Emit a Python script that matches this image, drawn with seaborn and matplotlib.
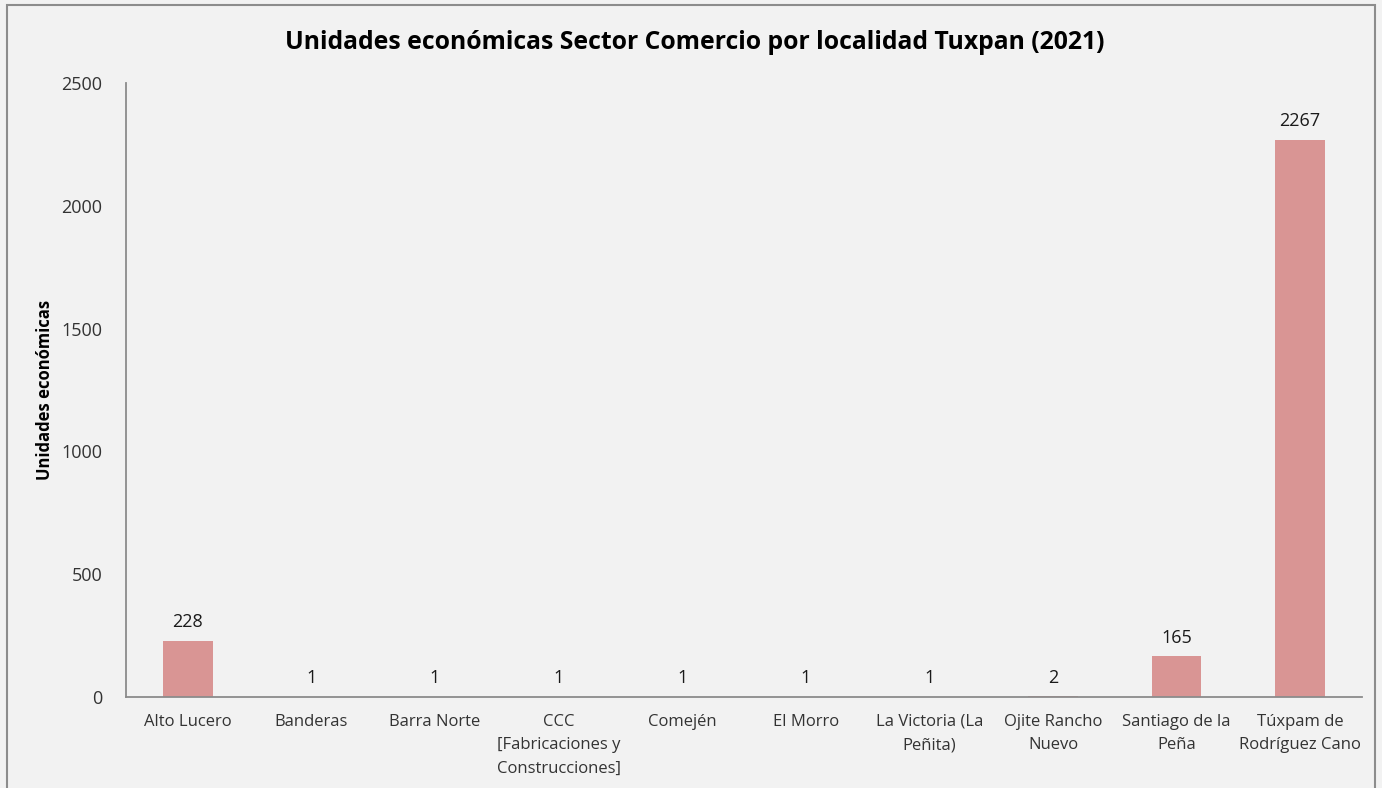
import matplotlib
matplotlib.use("Agg")
import matplotlib.pyplot as plt
import seaborn as sns
import pandas as pd
from matplotlib.patches import Rectangle

# data
localidades = [
    "Alto Lucero", "Banderas", "Barra Norte",
    "CCC\n[Fabricaciones y\nConstrucciones]", "Comején", "El Morro",
    "La Victoria (La\nPeñita)", "Ojite Rancho\nNuevo", "Santiago de la\nPeña",
    "Túxpam de\nRodríguez Cano",
]
unidades = [228, 1, 1, 1, 1, 1, 1, 2, 165, 2267]
y_ticks = [0, 500, 1000, 1500, 2000, 2500]

df = pd.DataFrame({"Localidad": localidades, "Unidades": unidades})

sns.set_style("white")
plt.rcParams["font.family"] = ["Open Sans", "DejaVu Sans"]

bg = "#f2f2f2"
fig = plt.figure(figsize=(13.82, 7.88), dpi=100, facecolor=bg)
ax = fig.add_axes([0.0912, 0.1155, 0.8943, 0.7792])
ax.set_facecolor(bg)

sns.barplot(data=df, x="Localidad", y="Unidades", color="#d99594",
            width=0.4, saturation=1, linewidth=0, ax=ax)

ax.bar_label(ax.containers[0], fmt="%d", padding=7, fontsize=13, color="#1a1a1a")

ax.set_ylim(0, 2500)
ax.set_yticks(y_ticks)
ax.set_xlim(-0.5, len(localidades) - 0.5)
ax.tick_params(axis="y", labelsize=13, colors="#333333", length=0, pad=17)
ax.tick_params(axis="x", labelsize=12, colors="#333333", length=0, pad=12)
for lbl in ax.get_xticklabels():
    lbl.set_linespacing(1.65)

for s in ["top", "right"]:
    ax.spines[s].set_visible(False)
for s in ["left", "bottom"]:
    ax.spines[s].set_color("#8c8c8c")
    ax.spines[s].set_linewidth(1.3)

ax.set_xlabel("")
ax.set_ylabel("Unidades económicas", fontsize=12, fontweight="bold", color="#000000")
ax.yaxis.set_label_coords(-0.058, 0.5)

fig.suptitle("Unidades económicas Sector Comercio por localidad Tuxpan (2021)",
             x=0.503, y=0.962, fontsize=17.8, fontweight="bold", color="#000000")

# outer chart border
fig.patches.append(Rectangle((0.005, -0.01), 0.99, 1.004, transform=fig.transFigure,
                             fill=False, edgecolor="#8c8c8c", linewidth=1.5))

fig.savefig("out.png", dpi=100, facecolor=bg)
